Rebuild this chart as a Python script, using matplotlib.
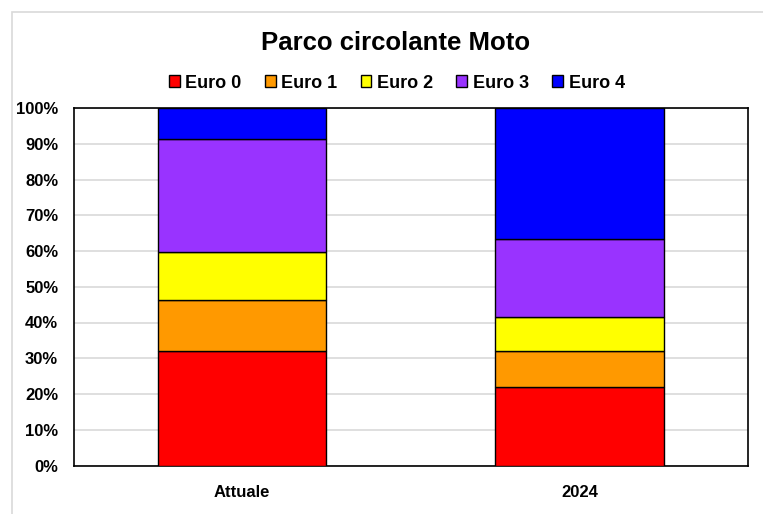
import matplotlib.pyplot as plt
from matplotlib.patches import Rectangle

plt.rcParams['font.family'] = ['Liberation Sans', 'DejaVu Sans']

# Quote percentuali del parco circolante per classe Euro
categorie = ['Attuale', '2024']
classi = ['Euro 0', 'Euro 1', 'Euro 2', 'Euro 3', 'Euro 4']
euro0 = [32.1, 22.0]
euro1 = [14.2, 9.9]
euro2 = [13.4, 9.6]
euro3 = [31.5, 21.9]
euro4 = [8.8, 36.6]
colori = ['#FF0000', '#FF9900', '#FFFF00', '#9933FF', '#0000FF']

serie = [euro0, euro1, euro2, euro3, euro4]

fig = plt.figure(figsize=(7.63, 5.14), dpi=100)
# cornice esterna del grafico
fig.patches.append(Rectangle((12 / 763, -0.1), 1.1, (514 - 12) / 514 + 0.1,
                             transform=fig.transFigure, fill=False,
                             edgecolor='#d9d9d9', linewidth=1.2))

ax = fig.add_axes([73.5 / 763, 48.5 / 514, 674.5 / 763, 357.5 / 514])
x = range(len(categorie))
base = [0.0] * len(categorie)
for nome, valori, col in zip(classi, serie, colori):
    ax.bar(x, valori, width=0.5, bottom=base, color=col, edgecolor='black',
           linewidth=1.0, label=nome, zorder=3)
    base = [b + v for b, v in zip(base, valori)]

ax.set_xlim(-0.5, 1.5)
ax.set_ylim(0, 100)
ax.set_yticks(range(0, 101, 10))
ax.set_yticklabels([f'{v}%' for v in range(0, 101, 10)], fontsize=12, fontweight='bold')
ax.set_xticks(list(x))
ax.set_xticklabels(categorie, fontsize=12, fontweight='bold')
ax.tick_params(axis='y', length=0, pad=11)
ax.tick_params(axis='x', length=0, pad=14)
ax.grid(axis='y', color='#d9d9d9', linewidth=1.2, zorder=0)
for s in ax.spines.values():
    s.set_color('black')
    s.set_linewidth(1.2)

fig.text(0.518, 1 - 43 / 514, 'Parco circolante Moto', ha='center', va='center',
         fontsize=18.5, fontweight='bold')
fig.legend(loc='center', bbox_to_anchor=(0.52, 1 - 83 / 514), ncol=5, frameon=False,
           prop={'size': 13, 'weight': 'bold'}, handlelength=0.6, handleheight=0.6,
           handletextpad=0.3, columnspacing=1.3)

plt.savefig('out.png', dpi=100)
